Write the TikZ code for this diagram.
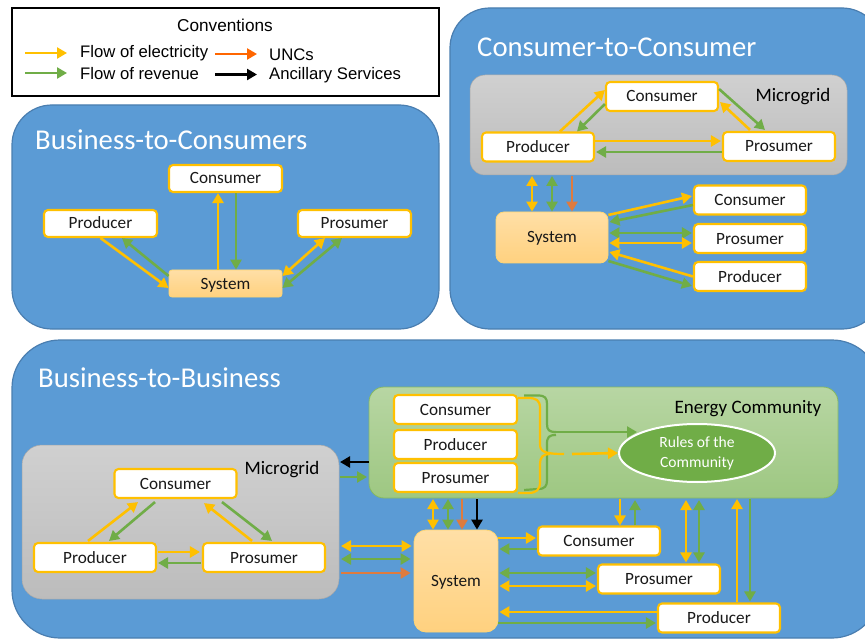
\documentclass[tikz,border=0pt]{standalone}
\usepackage{fontspec}
\setmainfont{Carlito}
\newfontfamily\legendfont{Liberation Sans}
\usetikzlibrary{arrows.meta,calc,shapes.geometric}
\definecolor{elecc}{HTML}{FFC000}
\definecolor{revc}{HTML}{70AD47}
\definecolor{uncc}{HTML}{DE7B3F}
\definecolor{panelc}{HTML}{5B9BD5}
\definecolor{paneld}{HTML}{4A7EB0}
\definecolor{greytop}{HTML}{D0D0D0}
\definecolor{greybot}{HTML}{BCBCBC}
\definecolor{systop}{HTML}{FFDFA6}
\definecolor{sysbot}{HTML}{FFD17F}
\tikzset{
  x=1pt,y=-1pt,
  panel/.style={draw=paneld,line width=1.2pt,fill=panelc,rounded corners=#1},
  title/.style={anchor=west,text=white,font=\fontsize{28.7}{32}\selectfont,inner sep=0pt},
  grid/.style={draw=greybot!90!black,line width=0.5pt,top color=greytop,bottom color=greybot,rounded corners=#1},
  community/.style={draw=revc!85,line width=0.8pt,top color=revc!50!white,bottom color=revc!68!white,rounded corners=15pt},
  label/.style={font=\fontsize{19}{22}\selectfont,inner sep=0pt,text=black},
  actor/.style={draw=elecc,line width=2.1pt,fill=white,rounded corners=4pt,inner sep=0pt,font=\fontsize{17.2}{20}\selectfont,text=black!90,text height=14pt,text depth=3pt,minimum height=#1},
  actor/.default=28pt,
  sysbox/.style={draw=systop!70!elecc,line width=0.8pt,top color=systop,bottom color=sysbot,rounded corners=#1,inner sep=0pt,font=\fontsize{17.2}{20}\selectfont,text=black!90,text height=14pt,text depth=3pt},
  elec/.style={draw=elecc,line width=2.6pt},
  rev/.style={draw=revc,line width=2.6pt},
  unc/.style={draw=uncc,line width=2.6pt},
  anc/.style={draw=black,line width=2.6pt},
  one/.style={-{Triangle[length=10pt,width=11pt]}},
  two/.style={{Triangle[length=10pt,width=11pt]}-{Triangle[length=10pt,width=11pt]}},
  legend/.style={anchor=west,inner sep=0pt,font=\legendfont\fontsize{16.7}{18}\selectfont},
}
\begin{document}
\begin{tikzpicture}
\clip (0,0) rectangle (865,639);
\fill[white] (0,0) rectangle (865,639);

% Legend
\node[draw=black,line width=1.6pt,minimum width=427pt,minimum height=88pt,inner sep=0pt] (legendbox) at (225.5,52) {};
\node[inner sep=0pt,font=\legendfont\fontsize{17.2}{18}\selectfont] (legendtitle) at (225,25.5) {Conventions};
\node[legend] (lelec) at (80,53.5) {Flow of electricity};
\node[legend] (lrev) at (80,74) {Flow of revenue};
\node[legend] (lunc) at (269,54.5) {UNCs};
\node[legend] (lanc) at (269,75.5) {Ancillary Services};
\coordinate (le0) at (25,53);
\coordinate (lr0) at (25,73);
\coordinate (lu0) at (215,54);
\coordinate (la0) at (215,74.5);
\draw[elec,one] (le0) -- +(42,0);
\draw[rev,one] (lr0) -- +(42,0);
\draw[unc,draw=orange!80!red,one] (lu0) -- +(42,0);
\draw[anc,one] (la0) -- +(42,0);

% Business-to-Consumers
\draw[panel=40pt] (12,105) rectangle (439,329);
\node[title] (t1) at (35,140) {Business-to-Consumers};
\node[actor=27pt,minimum width=113pt] (bc) at (225.5,178.5) {Consumer};
\node[actor=27pt,minimum width=113pt] (bp) at (100.5,223.5) {Producer};
\node[actor=27pt,minimum width=113pt] (bs) at (354.5,223.5) {Prosumer};
\node[sysbox=3pt,minimum width=113pt,minimum height=27pt] (bsys) at (225.5,283.5) {System};
\draw[elec,one] (bp.south) -- ($(bsys.west)+(0,4.5)$);
\draw[rev,one] ($(bsys.west)+(0,-7.5)$) -- ($(bp.south)+(21.5,0)$);
\draw[elec,one] ($(bsys.north)+(-7.5,0)$) -- ($(bc.south)+(-7.5,0)$);
\draw[rev,one] ($(bc.south)+(10.5,0)$) -- ($(bsys.north)+(10.5,0)$);
\draw[elec,two] ($(bsys.east)+(0,-7.5)$) -- ($(bs.south)+(-29.5,0)$);
\draw[rev,two] ($(bsys.east)+(0,4.5)$) -- ($(bs.south)+(-12.5,0)$);

% Consumer-to-Consumer
\draw[panel=40pt] (450,8) rectangle (882,329);
\node[title] (t2) at (477,47) {Consumer-to-Consumer};
\draw[grid=15pt] (470,75) rectangle (847,175);
\node[label] (cmg) at (793,97) {Microgrid};
\node[actor=29pt,minimum width=112pt] (cc) at (662,96.5) {Consumer};
\node[actor=29pt,minimum width=112pt] (cp) at (538,147) {Producer};
\node[actor=29pt,minimum width=112pt] (cs) at (779,146.5) {Prosumer};
\draw[elec,one] ($(cp.north)+(22,0)$) -- ($(cc.west)+(0,-6.5)$);
\draw[rev,one] ($(cc.west)+(0,7.5)$) -- ($(cp.north)+(39,0)$);
\draw[rev,one] ($(cc.east)+(0,-7.5)$) -- ($(cs.north)+(-14,-1)$);
\draw[elec,one] ($(cs.north)+(-29,-1)$) -- ($(cc.east)+(1,5.5)$);
\draw[elec,one] ($(cp.east)+(0,-6)$) -- ($(cs.west)+(-1,-5.5)$);
\draw[rev,one] ($(cs.west)+(0,5.5)$) -- ($(cp.east)+(1,5)$);
\node[sysbox=8pt,minimum width=112pt,minimum height=51pt] (csys) at (552,237.5) {System};
\coordinate (cgbl) at (532,176);
\coordinate (cgbm) at (552,176);
\coordinate (cgbr) at (572,176);
\draw[elec,two] (cgbl) -- (cgbl |- csys.north);
\draw[rev,two] (cgbm) -- (cgbm |- csys.north);
\draw[unc,one] (cgbr) -- (cgbr |- csys.north);
\node[actor=29pt,minimum width=112pt] (cc2) at (750,200) {Consumer};
\node[actor=29pt,minimum width=112pt] (cs2) at (750,238.5) {Prosumer};
\node[actor=29pt,minimum width=112pt] (cp2) at (750,276.5) {Producer};
\draw[elec,one] ($(csys.east)+(0,-22.5)$) -- ($(cc2.west)+(-1,-4)$);
\draw[rev,one] ($(cc2.west)+(0,5)$) -- ($(csys.east)+(1,-15.5)$);
\draw[rev,two] ($(csys.east)+(1,-4.5)$) -- ($(cs2.west)+(-1,-5.5)$);
\draw[elec,two] ($(csys.east)+(1,5.5)$) -- ($(cs2.west)+(-1,4.5)$);
\draw[elec,one] (cp2.west) -- ($(csys.east)+(1,14.5)$);
\draw[rev,one] ($(csys.east)+(0,23.5)$) -- ($(cp2.west)+(-1,9.5)$);

% Business-to-Business
\draw[panel=48pt] (12,340) rectangle (880,638);
\node[title] (t3) at (38,378) {Business-to-Business};
\draw[grid=20pt] (22,445) rectangle (339,599);
\node[label] (bmg) at (282,470) {Microgrid};
\node[actor=29pt,minimum width=122pt] (gc) at (175.5,483.5) {Consumer};
\node[actor=29pt,minimum width=122pt] (gp) at (95,557.5) {Producer};
\node[actor=29pt,minimum width=122pt] (gs) at (264,557.5) {Prosumer};
\draw[elec,one] ($(gp.north)+(-7,-1)$) -- ($(gc.south)+(-37.5,3)$);
\draw[rev,one] ($(gc.south)+(-20.5,3)$) -- ($(gp.north)+(14,-1)$);
\draw[elec,one] ($(gs.north)+(-12,-1)$) -- ($(gc.south)+(28.5,4)$);
\draw[rev,one] ($(gc.south)+(46.5,3)$) -- ($(gs.north)+(8,-1)$);
\draw[elec,one] ($(gp.east)+(1,-5.5)$) -- ($(gs.west)+(-2,-5.5)$);
\draw[rev,one] ($(gs.west)+(-1,5.5)$) -- ($(gp.east)+(1,5.5)$);

% Energy community
\draw[community] (369,387) rectangle (838,498);
\node[label] (ecl) at (748,409) {Energy Community};
\node[actor=29pt,minimum width=123pt] (ec1) at (455.5,409.5) {Consumer};
\node[actor=29pt,minimum width=123pt] (ec2) at (455.5,444.5) {Producer};
\node[actor=29pt,minimum width=123pt] (ec3) at (455.5,477.5) {Prosumer};
\node[ellipse,draw=white,line width=2pt,fill=revc,minimum width=156pt,minimum height=58pt,inner sep=0pt,text=white,font=\fontsize{15.6}{20}\selectfont,align=center] (rules) at (697,453) {Rules of the\\Community};
\coordinate (obr) at (564,454);
\coordinate (obg) at (572,454);
\coordinate (gbr) at (637,432);
\draw[rev,line width=2.2pt] ($(ec1.east)+(6,-14)$) -- (538,395.5) .. controls (545,395.5) and (547,398) .. (547,404) -- (547,424) .. controls (547,430) and (549,432) .. (556,432);
\draw[rev,line width=2.2pt] ($(ec3.east)+(6,12.5)$) -- (538,489) .. controls (545,489) and (547,486) .. (547,480) -- (547,444) .. controls (547,437) and (549,435) .. (556,435);
\draw[rev,one] (556,432) -- (gbr);
\draw[elec,line width=2.2pt] ($(ec1.east)+(0,-11.5)$) -- (528,398) .. controls (536,398) and (540,400) .. (540,408) -- (540,444) .. controls (540,451) and (543,454) .. (obr);
\draw[elec,line width=2.2pt] ($(ec3.east)+(0,15.5)$) -- (528,493) .. controls (536,493) and (540,490) .. (540,482) -- (540,464) .. controls (540,457) and (543,454) .. (550,454);
\draw[elec,one] (obg) -- (rules.west);

% System
\node[sysbox=12pt,minimum width=84pt,minimum height=102pt] (gsys) at (456,581) {System};
\coordinate (eb1) at (433,499);
\coordinate (eb2) at (448,499);
\coordinate (eb3) at (462,499);
\coordinate (eb4) at (477,499);
\draw[elec,two] (eb1) -- (eb1 |- gsys.north);
\draw[rev,two] (eb2) -- (eb2 |- gsys.north);
\draw[unc,one] (eb3) -- (eb3 |- gsys.north);
\draw[anc,one] (eb4) -- (eb4 |- gsys.north);

% Microgrid - community
\coordinate (mgE) at (340,477);
\coordinate (mgB) at (340,462);
\draw[anc,one] (369,462) -- (mgB);
\draw[rev,one] (mgE) -- (367,477);
% Microgrid - system
\coordinate (ms1) at (341,546);
\coordinate (ms2) at (341,559);
\coordinate (ms3) at (341,573);
\draw[elec,two] (ms1) -- ($(gsys.west |- ms1)+(-2,0)$);
\draw[rev,two] (ms2) -- ($(gsys.west |- ms2)+(-3,0)$);
\draw[unc,one] (ms3) -- ($(gsys.west |- ms3)+(-3,0)$);

% Right side
\node[actor=29pt,minimum width=122pt] (gc2) at (599,541) {Consumer};
\node[actor=29pt,minimum width=122pt] (gs2) at (659,579) {Prosumer};
\node[actor=29pt,minimum width=122pt] (gp2) at (719,618) {Producer};
\draw[elec,one] ($(gsys.east)+(0,-43)$) -- ($(gc2.west)+(-1,-3)$);
\draw[rev,one] ($(gc2.west)+(0,8)$) -- ($(gsys.east)+(1,-32)$);
\draw[rev,two] ($(gsys.east)+(1,-8)$) -- ($(gs2.west)+(-1,-6)$);
\draw[elec,two] ($(gsys.east)+(1,5)$) -- ($(gs2.west)+(-1,7)$);
\draw[elec,one] ($(gp2.west)+(0,-6)$) -- ($(gsys.east)+(1,31)$);
\draw[rev,one] ($(gsys.east)+(0,42)$) -- ($(gp2.west)+(-1,5)$);
\coordinate (ex1) at (620,499);
\coordinate (ex2) at (635,500);
\coordinate (ex3) at (686,500);
\coordinate (ex4) at (699,500);
\coordinate (ex5) at (737,499);
\coordinate (ex6) at (750,499);
\draw[elec,one] (ex1) -- (ex1 |- gc2.north);
\draw[rev,one] (ex2 |- gc2.north) -- (ex2);
\draw[elec,two] (ex3) -- ($(ex3 |- gs2.north)+(0,-1)$);
\draw[rev,two] (ex4) -- ($(ex4 |- gs2.north)+(0,-1)$);
\draw[elec,one] (ex5 |- gp2.north) -- (ex5);
\draw[rev,one] (ex6) -- ($(ex6 |- gp2.north)+(0,-1)$);
\end{tikzpicture}
\end{document}
